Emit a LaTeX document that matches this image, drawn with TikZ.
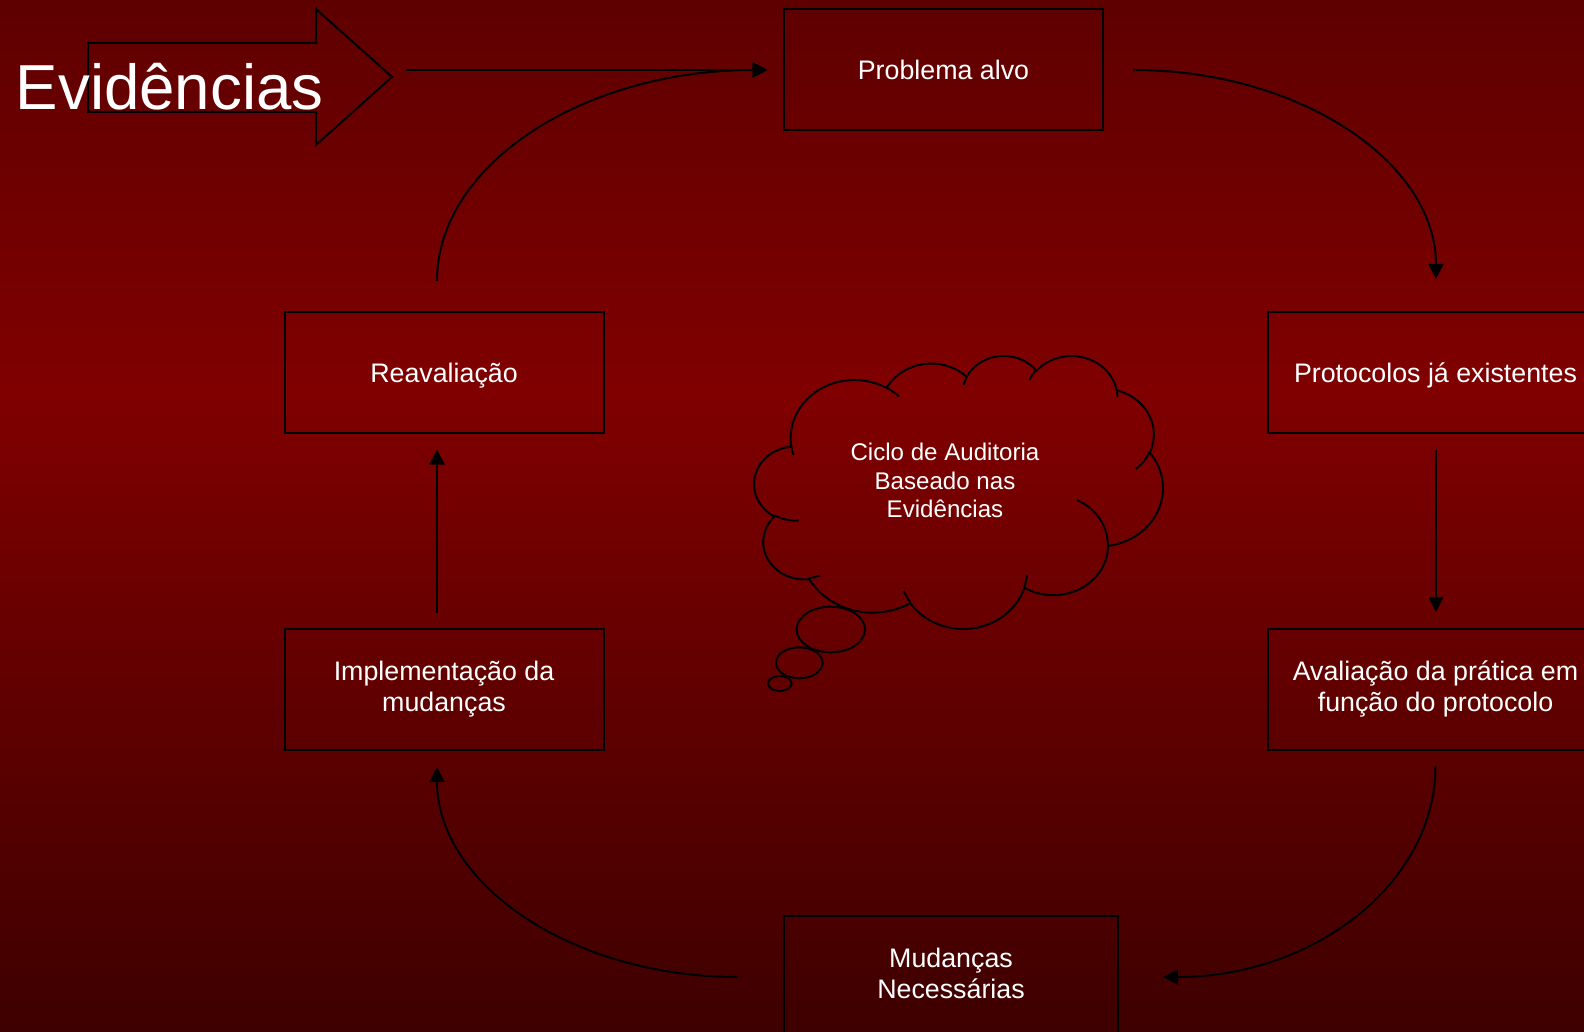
\documentclass[tikz,border=0pt]{standalone}
\usepackage{fontspec}
\setmainfont{Liberation Sans}
\usetikzlibrary{arrows.meta,calc}
\definecolor{bgtop}{RGB}{94,0,0}
\definecolor{bgmid}{RGB}{128,0,0}
\definecolor{bgbot}{RGB}{62,0,0}
% DrawingML-style arcTo: wR, hR, start angle, swing angle (geometric angles)
\newcommand\cloudarc[4]{%
  \pgfextra{%
    \pgfmathsetmacro\cldA{atan2((#1)*sin(#3),(#2)*cos(#3))}%
    \pgfmathsetmacro\cldB{atan2((#1)*sin((#3)+(#4)),(#2)*cos((#3)+(#4)))}%
    \pgfmathsetmacro\cldD{mod(\cldB-(\cldA)+720,360)}%
    \global\let\cldAg\cldA
    \global\let\cldDg\cldD
  }%
  arc[x radius=#1,y radius=#2,start angle=\cldAg,delta angle=\cldDg]%
}
\begin{document}
\begin{tikzpicture}[x=0.5pt,y=-0.5pt,
  box/.style={draw=black,line width=1pt,minimum width=159.5pt,minimum height=60.5pt,
    inner sep=0pt,text=white,align=center,
    font=\fontsize{13.4pt}{15.5pt}\selectfont,text height=9.6pt,text depth=0pt},
  boxtwo/.style={box,text height=25.1pt,text depth=3.6pt},
  conn/.style={line width=1pt,-{Triangle[length=7.5pt,width=7.5pt]}},
  cloudline/.style={line width=1pt}]
\useasboundingbox (0,0) rectangle (1584,1032);
\shade[top color=bgtop,bottom color=bgmid] (0,0) rectangle (1584,392);
\shade[top color=bgmid,bottom color=bgbot] (0,390) rectangle (1584,1032);

% block arrow and title
\draw[line width=1pt] (88,43) -- (316,43) -- (316,9) -- (392,77) -- (316,145) -- (316,112) -- (88,112) -- cycle;
\node[anchor=base west,inner sep=0pt,text=white,font=\fontsize{31.8pt}{38pt}\selectfont] (title) at (15.5,110) {Evidências};

% boxes
\node[box] (prob) at (943.5,69.5) {Problema alvo};
\node[box] (reav) at (444,372.5) {Reavaliação};
\node[boxtwo] (impl) at (444,689.5) {Implementação da\\mudanças};
\node[box,minimum width=167.5pt] (prot) at (1435.5,372.5) {Protocolos já existentes};
\node[boxtwo,minimum width=167.5pt] (aval) at (1435.5,689.5) {Avaliação da prática em\\função do protocolo};
\node[boxtwo,minimum width=167pt] (mud) at (951,976.5) {Mudanças\\Necessárias};

% connector end points
\coordinate (arrowOut) at (406,70);
\coordinate (probIn) at ($(prob.west)+(-15.5,0.5)$);
\coordinate (probOut) at ($(prob.east)+(29,0.5)$);
\coordinate (protIn) at ($(prot.north)+(0.5,-32)$);
\coordinate (protOut) at ($(prot.south)+(0.5,16)$);
\coordinate (avalIn) at ($(aval.north)+(0.5,-16)$);
\coordinate (avalOut) at ($(aval.south)+(0,15)$);
\coordinate (mudIn) at ($(mud.east)+(44,0.5)$);
\coordinate (mudOut) at ($(mud.west)+(-45,0.5)$);
\coordinate (implIn) at ($(impl.south)+(-7,16)$);
\coordinate (implOut) at ($(impl.north)+(-7,-15)$);
\coordinate (reavIn) at ($(reav.south)+(-7,15.5)$);
\coordinate (reavOut) at ($(reav.north)+(-7,-30)$);

% connectors
\draw[conn] (arrowOut) -- (probIn);
\draw[conn] (probOut) .. controls +(168,0) and +(0,-116) .. (protIn);
\draw[conn] (protOut) -- (avalIn);
\draw[conn] (avalOut) .. controls +(0,117) and +(151,0) .. (mudIn);
\draw[conn] (mudOut) .. controls +(-167,0) and +(0,116.5) .. (implIn);
\draw[conn] (implOut) -- (reavIn);
\draw[conn] (reavOut) .. controls +(0,-117) and +(-183,0) .. (probIn);

% cloud callout
\begin{scope}[shift={(754.35,355.1)},x=2.0425pt,y=-1.3645pt,cloudline]
\draw (9.028,33.264)
  \cloudarc{15.632}{21.273}{-190.487}{123.781}
  \cloudarc{12.345}{16.822}{-144.102}{89.945}
  \cloudarc{10.104}{13.762}{-145.808}{99.723}
  \cloudarc{11.243}{15.266}{-130.986}{117.242}
  \cloudarc{12.345}{16.836}{-78.709}{109.027}
  \cloudarc{15.683}{21.343}{-46.267}{130.269}
  \cloudarc{13.391}{18.211}{0.625}{114.033}
  \cloudarc{15.630}{21.331}{22.452}{115.173}
  \cloudarc{17.870}{24.405}{66.243}{75.711}
  \cloudarc{10.093}{13.699}{-274.942}{146.736}
  \cloudarc{10.058}{13.762}{-246.829}{152.519}
  -- cycle;
\draw (10.863,60.595) \cloudarc{10.058}{13.762}{86.742}{26.430}
  (16.037,80.785) \cloudarc{10.093}{13.699}{73.610}{11.447}
  (38.144,90.486) \cloudarc{15.630}{21.331}{137.624}{14.081}
  (66.729,80.442) \cloudarc{15.630}{21.331}{6.453}{15.998}
  (79.002,53.134) \cloudarc{13.391}{18.211}{-70.292}{70.917}
  (96.755,35.542) \cloudarc{12.345}{16.836}{30.318}{27.752}
  (88.713,12.560) \cloudarc{11.243}{15.266}{-13.744}{14.854}
  (67.310,9.148) \cloudarc{11.243}{15.266}{-149.181}{18.195}
  (51.252,10.926) \cloudarc{10.104}{13.762}{-163.494}{17.686}
  (32.407,12.019) \cloudarc{15.632}{21.273}{-66.707}{12.319}
  (9.553,36.549) \cloudarc{15.632}{21.273}{157.654}{11.858};
\end{scope}
\draw[cloudline] (830.8,629.5) ellipse [x radius=34.2,y radius=22.8];
\draw[cloudline] (799.3,662.8) ellipse [x radius=23.3,y radius=15.5];
\draw[cloudline] (779.8,683.5) ellipse [x radius=11.8,y radius=7.5];
\node[inner sep=0pt,text=white,align=center,font=\fontsize{12.05pt}{14.25pt}\selectfont,
  text height=37.13pt,text depth=0.27pt] (cloudtxt) at (945,480.85)
  {Ciclo de Auditoria\\Baseado nas\\Evidências};
\end{tikzpicture}
\end{document}
